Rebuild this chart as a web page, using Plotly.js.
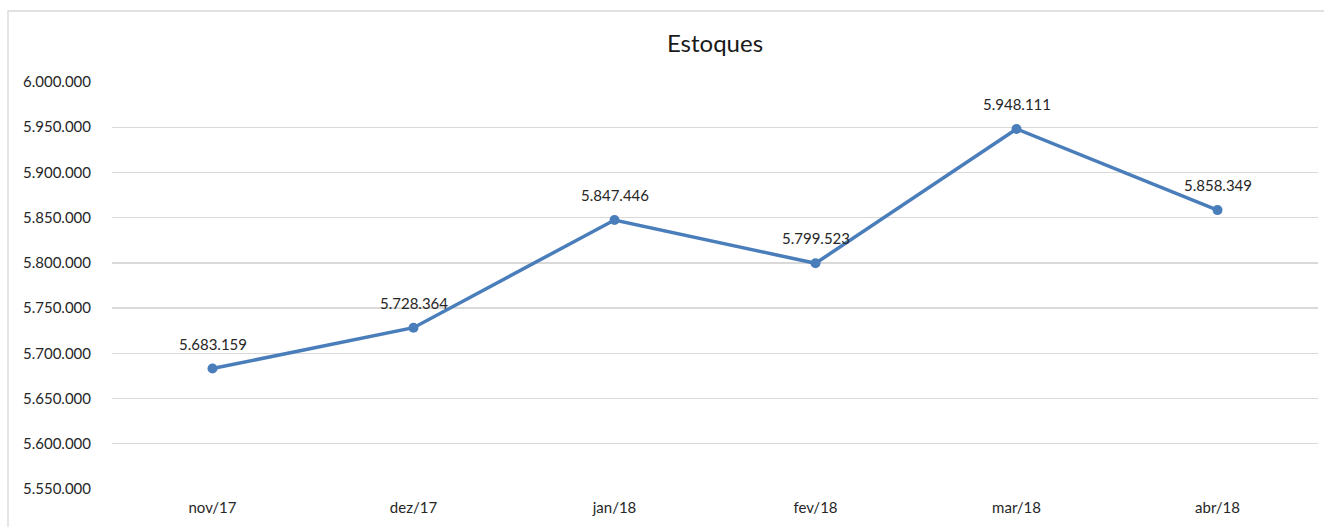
<!DOCTYPE html>
<html>
<head>
<meta charset="utf-8">
<script src="https://cdn.plot.ly/plotly-3.0.1.min.js"></script>
<style>html,body{margin:0;padding:0;background:#fff;}#chart{width:1324px;height:527px;}</style>
</head>
<body>
<div id="chart"></div>
<script>
const months = ["nov/17", "dez/17", "jan/18", "fev/18", "mar/18", "abr/18"];
const estoques = [5683159, 5728364, 5847446, 5799523, 5948111, 5858349];
const yTicks = [5550000, 5600000, 5650000, 5700000, 5750000, 5800000, 5850000, 5900000, 5950000, 6000000];

const FONT = "Lato, 'Open Sans', sans-serif";
const fmt = v => v.toString().replace(/\B(?=(\d{3})+(?!\d))/g, ".");

const trace = {
  x: months,
  y: estoques,
  type: "scatter",
  mode: "lines+markers",
  line: {color: "#4a7ebb", width: 3.5},
  marker: {color: "#4a7ebb", size: 10},
  hoverinfo: "none",
  cliponaxis: false
};

const annotations = months.map((m, i) => ({
  x: m, y: estoques[i], xref: "x", yref: "y",
  text: fmt(estoques[i]), showarrow: false,
  yshift: 25, font: {family: FONT, size: 15, color: "#262626"}
}));

const layout = {
  width: 1324, height: 527,
  margin: {l: 112, r: 6, t: 82, b: 38},
  paper_bgcolor: "#ffffff", plot_bgcolor: "#ffffff",
  separators: ",.",
  showlegend: false,
  title: {text: "Estoques", x: 0.5, xref: "paper", xanchor: "center", y: 1 - 44/527, yanchor: "middle",
          font: {family: FONT, size: 24, color: "#1a1a1a"}},
  xaxis: {type: "category", range: [-0.5, months.length - 0.5], autorange: false,
          showgrid: false, zeroline: false, showline: false,
          ticks: "", ticklabelstandoff: 8,
          tickfont: {family: FONT, size: 15, color: "#262626"}, fixedrange: true},
  yaxis: {range: [5550000, 6000000], tickvals: yTicks, ticktext: yTicks.map(fmt),
          showgrid: true, gridcolor: "#d9d9d9", gridwidth: 1.3, zeroline: false, showline: false,
          ticks: "", ticklabelstandoff: 20,
          tickfont: {family: FONT, size: 15, color: "#262626"}, fixedrange: true},
  annotations: annotations,
  shapes: [{type: "rect", xref: "paper", yref: "paper",
            x0: (8 - 112) / 1206, x1: (1340 - 112) / 1206,
            y0: (489 - 540) / 407, y1: (489 - 11) / 407,
            line: {color: "#d9d9d9", width: 1.3}, fillcolor: "rgba(0,0,0,0)", layer: "below"}]
};

Plotly.newPlot("chart", [trace], layout, {displayModeBar: false, staticPlot: true});
</script>
</body>
</html>
